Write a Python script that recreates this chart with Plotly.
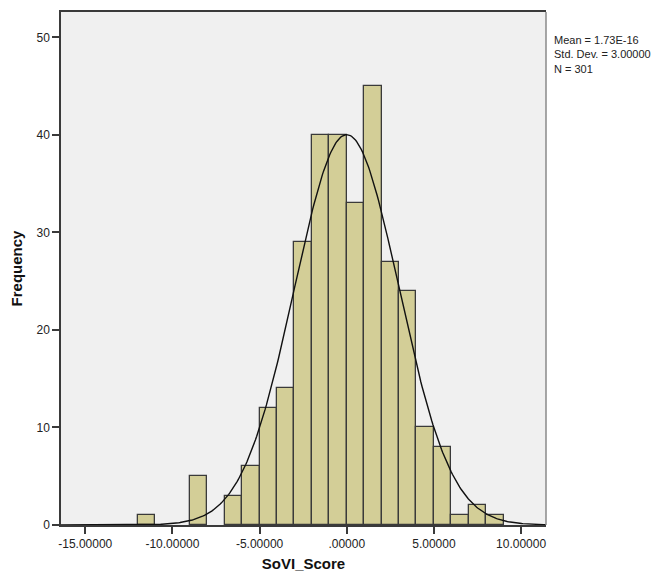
import numpy as np
import plotly.graph_objects as go

# Histogram data (bin width = 1)
bin_starts = [-12, -9, -7, -6, -5, -4, -3, -2, -1, 0, 1, 2, 3, 4, 5, 6, 7, 8]
counts = [1, 5, 3, 6, 12, 14, 29, 40, 40, 33, 45, 27, 24, 10, 8, 1, 2, 1]
bin_width = 1.0

# Summary statistics (as shown in the chart)
mean_val = 1.73e-16
std_val = 3.0
n_val = 301

x_tickvals = [-15, -10, -5, 0, 5, 10]
x_ticktext = ["-15.00000", "-10.00000", "-5.00000", ".00000", "5.00000", "10.00000"]
y_tickvals = [0, 10, 20, 30, 40, 50]

x_range = [-16.39, 11.43]
y_range = [0, 52.6]

centers = [s + bin_width / 2 for s in bin_starts]

fig = go.Figure()
fig.add_trace(go.Bar(
    x=centers, y=counts, width=bin_width,
    marker=dict(color="#D3CE97", line=dict(color="#3a3a3a", width=1.3)),
    showlegend=False, hoverinfo="x+y",
))

# Normal curve fitted from mean / std / N
xc = np.linspace(x_range[0], x_range[1], 400)
yc = n_val * bin_width / (std_val * np.sqrt(2 * np.pi)) * np.exp(-0.5 * ((xc - mean_val) / std_val) ** 2)
fig.add_trace(go.Scatter(x=xc, y=yc, mode="lines",
                         line=dict(color="#111111", width=1.4),
                         showlegend=False, hoverinfo="skip"))

font_family = "Liberation Sans, Arial, sans-serif"

fig.update_layout(
    width=652, height=566,
    margin=dict(l=53, r=114, t=2, b=49),
    paper_bgcolor="white",
    plot_bgcolor="#F0F0F0",
    bargap=0,
    font=dict(family=font_family, size=12, color="#222222"),
    xaxis=dict(
        range=x_range, tickvals=x_tickvals, ticktext=x_ticktext,
        showgrid=False, zeroline=False,
        showline=True, linecolor="#3a3a3a", linewidth=1.5, mirror=True,
        ticks="outside", ticklen=7, tickwidth=1.5, tickcolor="#3a3a3a",
        tickfont=dict(size=12, color="#222222"),
        title=dict(text="<b>SoVI_Score</b>", font=dict(size=15, color="#111111"), standoff=8),
    ),
    yaxis=dict(
        range=y_range, tickvals=y_tickvals,
        showgrid=False, zeroline=False,
        showline=True, linecolor="#3a3a3a", linewidth=1.5,
        ticks="outside", ticklen=7, tickwidth=1.5, tickcolor="#3a3a3a",
        tickfont=dict(size=12, color="#222222"),
        title=dict(text="<b>Frequency</b>", font=dict(size=15, color="#111111"), standoff=11),
    ),
    shapes=[dict(type="line", xref="paper", yref="paper", x0=1, x1=1, y0=0, y1=1,
                 line=dict(color="#8a8a8a", width=1.5))],
    annotations=[dict(
        xref="paper", yref="paper", x=1, y=1, xanchor="left", yanchor="top",
        xshift=6, yshift=-20, align="left", showarrow=False,
        text=f"Mean = 1.73E-16<br>Std. Dev. = {std_val:.5f}<br>N = {n_val}",
        font=dict(size=11, color="#222222", family=font_family),
    )],
)

fig.write_html("out.html")
